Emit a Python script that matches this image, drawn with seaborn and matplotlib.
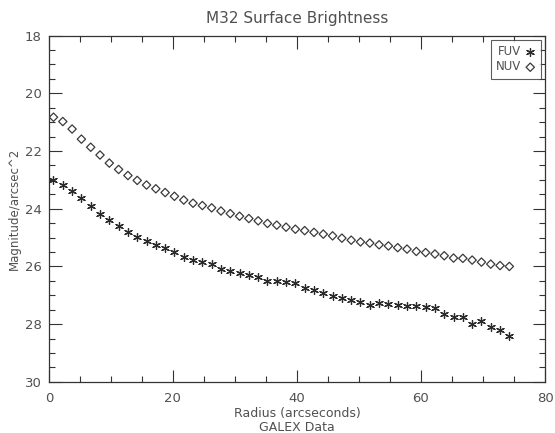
import matplotlib
matplotlib.use("Agg")
import matplotlib.pyplot as plt
import seaborn as sns
import pandas as pd
from matplotlib.ticker import MultipleLocator

radius = [0.75, 2.25, 3.75, 5.25, 6.75, 8.25, 9.75, 11.25, 12.75, 14.25,
          15.75, 17.25, 18.75, 20.25, 21.75, 23.25, 24.75, 26.25, 27.75, 29.25,
          30.75, 32.25, 33.75, 35.25, 36.75, 38.25, 39.75, 41.25, 42.75, 44.25,
          45.75, 47.25, 48.75, 50.25, 51.75, 53.25, 54.75, 56.25, 57.75, 59.25,
          60.75, 62.25, 63.75, 65.25, 66.75, 68.25, 69.75, 71.25, 72.75, 74.25]

fuv = [23.01, 23.19, 23.38, 23.63, 23.89, 24.19, 24.39, 24.60, 24.81, 24.98,
       25.12, 25.26, 25.36, 25.49, 25.66, 25.76, 25.83, 25.93, 26.08, 26.17,
       26.21, 26.28, 26.36, 26.49, 26.51, 26.53, 26.56, 26.73, 26.83, 26.92,
       27.03, 27.11, 27.15, 27.22, 27.32, 27.26, 27.29, 27.34, 27.37, 27.37,
       27.40, 27.43, 27.65, 27.76, 27.76, 28.00, 27.88, 28.10, 28.20, 28.40]

nuv = [20.83, 20.98, 21.24, 21.59, 21.87, 22.14, 22.42, 22.64, 22.85, 23.02,
       23.18, 23.31, 23.44, 23.57, 23.70, 23.81, 23.89, 23.97, 24.08, 24.17,
       24.26, 24.34, 24.42, 24.51, 24.57, 24.64, 24.71, 24.76, 24.82, 24.88,
       24.94, 25.02, 25.09, 25.15, 25.19, 25.25, 25.29, 25.35, 25.40, 25.48,
       25.52, 25.57, 25.63, 25.71, 25.72, 25.78, 25.85, 25.92, 25.97, 26.00]

x_ticks = [0, 20, 40, 60, 80]
y_ticks = [18, 20, 22, 24, 26, 28, 30]

sns.set_style("ticks")
plt.rcParams['font.family'] = ['DejaVu Sans']
text_color = "#505050"

fig = plt.figure(figsize=(5.55, 4.33), dpi=100)
ax = fig.add_axes([0.088, 0.118, 0.894, 0.80])

df_f = pd.DataFrame({"r": radius, "m": fuv})
df_n = pd.DataFrame({"r": radius, "m": nuv})

sns.scatterplot(data=df_f, x="r", y="m", ax=ax, marker=(6, 2, 0), s=32,
                color="#2a2a2a", linewidth=0.9, label="FUV", zorder=3)
sns.scatterplot(data=df_n, x="r", y="m", ax=ax, marker="D", s=18,
                facecolor="none", edgecolor="#3a3a3a", linewidth=0.9,
                label="NUV", zorder=3)

ax.set_xlim(0, 80)
ax.set_ylim(30, 18)
ax.set_xticks(x_ticks)
ax.set_yticks(y_ticks)
ax.xaxis.set_minor_locator(MultipleLocator(5))
ax.yaxis.set_minor_locator(MultipleLocator(0.5))
ax.tick_params(which="both", direction="in", top=True, right=True,
               colors="#333333", labelcolor=text_color, labelsize=9.5, width=0.8)
ax.tick_params(which="major", length=9)
ax.tick_params(which="minor", length=4.5)
ax.tick_params(axis="x", which="major", pad=7)
ax.tick_params(axis="y", which="major", pad=5)
for s in ax.spines.values():
    s.set_color("#333333")
    s.set_linewidth(0.9)

ax.set_title("M32 Surface Brightness", color=text_color, fontsize=11, pad=9)
ax.set_xlabel("Radius (arcseconds)\nGALEX Data", color=text_color,
              fontsize=9, labelpad=2, linespacing=1.1)
ax.set_ylabel("Magnitude/arcsec^2", color=text_color, fontsize=8.5, labelpad=3)

leg = ax.legend(loc="upper right", markerfirst=False, frameon=True,
                fancybox=False, edgecolor="#333333", fontsize=8.5,
                handletextpad=0.3, borderpad=0.45, labelspacing=0.2,
                handlelength=0.9, borderaxespad=0.35)
leg.get_frame().set_linewidth(0.8)
for t in leg.get_texts():
    t.set_color(text_color)

fig.savefig("out.png", dpi=100)
